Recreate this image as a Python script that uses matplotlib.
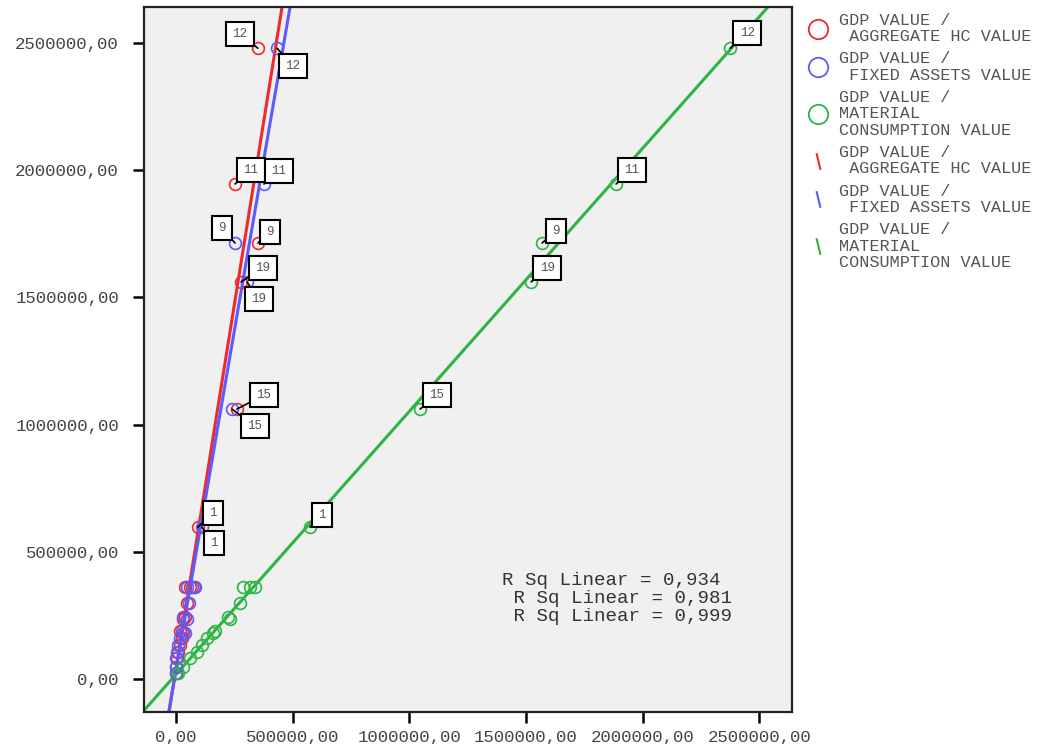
import numpy as np
import matplotlib
matplotlib.use('Agg')
import matplotlib.pyplot as plt
from matplotlib.lines import Line2D
from matplotlib.ticker import FuncFormatter

plt.rcParams['font.family'] = ['Liberation Mono', 'DejaVu Sans Mono']

# case numbers (only some are labelled in the chart)
cases = [12, 11, 9, 19, 15, 1, 2, 3, 4, 5, 6, 7, 8, 10, 13, 14, 16, 17, 18, 20]
labelled = [12, 11, 9, 19, 15, 1]

# GDP value (y) for every case
gdp = [2480000, 1946000, 1714000, 1561000, 1061000, 597000, 362000, 362000, 362000, 299000,
       244000, 236000, 189000, 181000, 161000, 134000, 106000, 83000, 47000, 24000]

# aggregate HC value
hc = [351000, 253000, 351000, 279000, 261000, 94000, 39000, 60000, 77000, 47000,
      39000, 30000, 17000, 30000, 26000, 17000, 9000, 4000, 0, 2000]

# fixed assets value
fixed = [433000, 377000, 253000, 304000, 240000, 111000, 47000, 69000, 81000, 56000,
         30000, 47000, 26000, 39000, 17000, 9000, 4000, 0, 1000, 1000]

# material consumption value
material = [2375000, 1886000, 1569000, 1522000, 1046000, 574000, 287000, 317000, 339000, 274000,
            223000, 231000, 167000, 159000, 133000, 111000, 90000, 60000, 30000, 9000]

r_squared = [0.934, 0.981, 0.999]

series_names = ['GDP VALUE /\n AGGREGATE HC VALUE',
                'GDP VALUE /\n FIXED ASSETS VALUE',
                'GDP VALUE /\nMATERIAL\nCONSUMPTION VALUE']
colors = ['#ee2a2e', '#5b5bff', '#2cb543']

# label box offsets in pixels (dx, dy up) for each series
offsets = [
    {12: (-18, 14), 11: (16, 14), 9: (12, 11), 19: (22, 14), 15: (27, 14), 1: (15, 14)},
    {12: (16, -18), 11: (15, 13), 9: (-13, 15), 19: (12, -17), 15: (23, -17), 1: (12, -16)},
    {12: (17, 15), 11: (16, 14), 9: (14, 12), 19: (16, 14), 15: (17, 14), 1: (12, 12)},
]

fig = plt.figure(figsize=(10.38, 7.44), dpi=100)
ax = fig.add_axes([144 / 1038, 32 / 744, 648 / 1038, 705 / 744])
ax.set_facecolor('#f0f0f0')

xs_all = [hc, fixed, material]
y = np.array(gdp)

for xs, col, offs in zip(xs_all, colors, offsets):
    x = np.array(xs)
    ax.plot(x, y, 'o', ms=8.5, mfc='none', mec=col, mew=1.2, zorder=3)
    m, b = np.polyfit(x, y, 1)
    ax.axline((0, b), slope=m, color=col, lw=2.2, zorder=2)
    for c, xi, yi in zip(cases, x, y):
        if c in labelled:
            ax.annotate(str(c), (xi, yi), xytext=offs[c], textcoords='offset pixels',
                        ha='center', va='center', fontsize=9, color='#555555',
                        bbox=dict(boxstyle='square,pad=0.5', fc='white', ec='black', lw=1.5),
                        arrowprops=dict(arrowstyle='-', color='black', lw=1.2,
                                        shrinkA=0, shrinkB=0),
                        zorder=5)

ax.set_xlim(-137000, 2640000)
ax.set_ylim(-130000, 2642000)
ticks = [0, 500000, 1000000, 1500000, 2000000, 2500000]
ax.set_xticks(ticks)
ax.set_yticks(ticks)
fmt = FuncFormatter(lambda v, p: ('%.2f' % v).replace('.', ','))
ax.xaxis.set_major_formatter(fmt)
ax.yaxis.set_major_formatter(fmt)
ax.tick_params(axis='both', direction='out', length=8, width=1.8, colors='black',
               labelcolor='#444444', labelsize=12.5)
ax.tick_params(axis='y', pad=10)
ax.tick_params(axis='x', pad=5)
for s in ax.spines.values():
    s.set_linewidth(1.6)
    s.set_color('#222222')

txt = '\n'.join([('R Sq Linear = %.3f' % r).replace('.', ',') if i == 0
                 else (' R Sq Linear = %.3f' % r).replace('.', ',')
                 for i, r in enumerate(r_squared)])
ax.text(0.552, 0.199, txt, transform=ax.transAxes, ha='left', va='top',
        fontsize=13.8, color='#333333', linespacing=1.08)

handles = []
for col in colors:
    handles.append(Line2D([], [], ls='none', marker='o', ms=14, mfc='none', mec=col, mew=1.3))
for col in colors:
    handles.append(Line2D([], [], ls='none', marker=[(-0.12, 0.5), (0.12, -0.5)],
                          ms=12, mfc='none', mec=col, mew=1.5))
leg = fig.legend(handles, series_names + series_names, loc='upper left',
                 bbox_to_anchor=(800 / 1038, 0.994), frameon=False, fontsize=12.2,
                 handlelength=1.1, handletextpad=0.7, labelspacing=0.42, borderpad=0)
for t in leg.get_texts():
    t.set_color('#555555')
    t.set_linespacing(1.12)

fig.savefig('out.png', dpi=100)
